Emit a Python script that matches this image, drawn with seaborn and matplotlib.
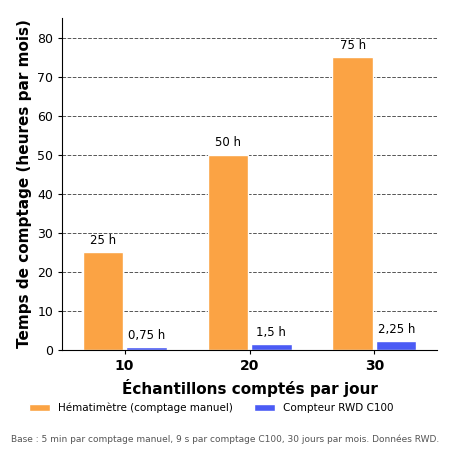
import matplotlib
matplotlib.use("Agg")
import matplotlib.pyplot as plt
import seaborn as sns
import pandas as pd

categories = ["10", "20", "30"]
series = ["Hématimètre (comptage manuel)", "Compteur RWD C100"]
manual = [25, 50, 75]
rwd = [0.75, 1.5, 2.25]
labels_manual = ["25 h", "50 h", "75 h"]
labels_rwd = ["0,75 h", "1,5 h", "2,25 h"]

df = pd.DataFrame({
    "cat": categories * 2,
    "serie": [series[0]] * 3 + [series[1]] * 3,
    "val": manual + rwd,
})

sns.set_style("white")
plt.rcParams.update({"text.color": "black", "axes.labelcolor": "black",
                     "xtick.color": "black", "ytick.color": "black"})
fig = plt.figure(figsize=(4.5, 4.5), dpi=100)
ax = fig.add_axes([0.138, 0.222, 0.833, 0.738])
sns.barplot(data=df, x="cat", y="val", hue="serie", order=categories, hue_order=series,
            palette=["#FBA344", "#4B5BF5"], saturation=1, width=0.7, gap=0.08, ax=ax, legend=True)
for cont, labs in zip(ax.containers, [labels_manual, labels_rwd]):
    ax.bar_label(cont, labels=labs, padding=4, fontsize=8.5)
ax.set_ylim(0, 85)
ax.set_yticks(range(0, 81, 10))
ax.yaxis.grid(True, linestyle="--", color="#555555", linewidth=0.7)
ax.set_axisbelow(True)
sns.despine(ax=ax)
ax.spines["left"].set_color("black")
ax.spines["bottom"].set_color("black")
ax.tick_params(axis="x", labelsize=10)
for t in ax.get_xticklabels():
    t.set_fontweight("bold")
ax.tick_params(axis="y", labelsize=9, left=True, length=3)
ax.tick_params(axis="x", bottom=True, length=3)
ax.set_xlabel("Échantillons comptés par jour", fontsize=11, fontweight="bold")
ax.set_ylabel("Temps de comptage (heures par mois)", fontsize=11, fontweight="bold")
ax.legend(loc="center", bbox_to_anchor=(0.47, 0.093), bbox_transform=fig.transFigure,
          ncol=2, frameon=False, fontsize=7.5)
fig.text(0.5, 0.018, "Base : 5 min par comptage manuel, 9 s par comptage C100, 30 jours par mois. Données RWD.",
         ha="center", fontsize=6.5, color="#555555")
fig.savefig("out.png", dpi=100)
